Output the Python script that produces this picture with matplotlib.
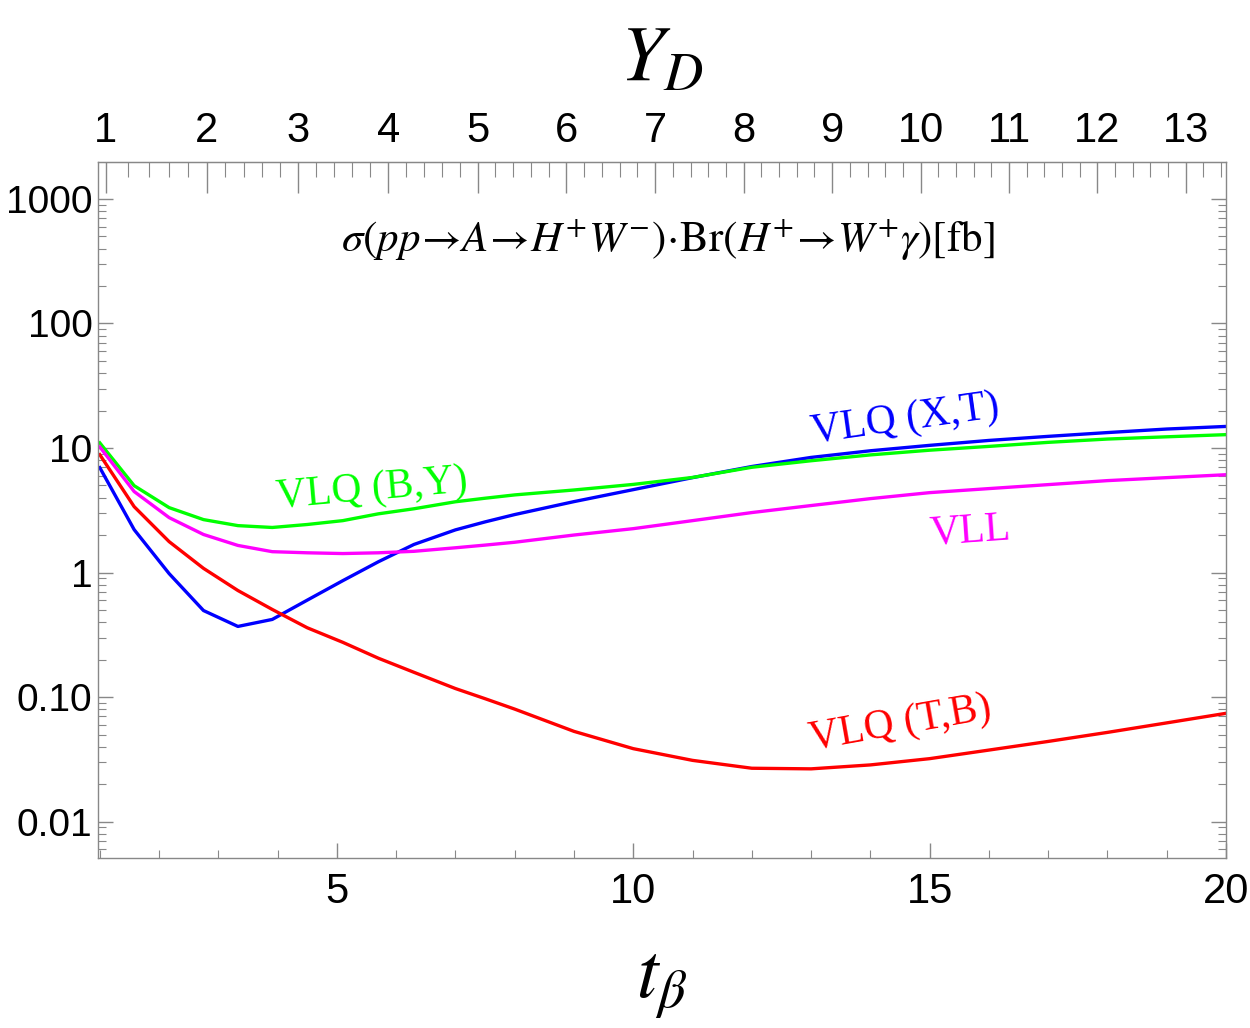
import matplotlib.pyplot as plt
import numpy as np
from matplotlib.ticker import FixedLocator, NullFormatter

plt.rcParams['mathtext.fontset'] = 'stix'

# t_beta sample points
tb = [1.0, 1.58, 2.17, 2.75, 3.33, 3.91, 4.5, 5.1, 5.7, 6.3, 7, 7.5, 8, 9, 10,
      11, 12, 13, 14, 15, 16, 17, 18, 19, 20]

# sigma x Br [fb] for each model
vlq_xt = [6.96, 2.21, 0.98, 0.495, 0.369, 0.42, 0.60, 0.86, 1.22, 1.68, 2.2, 2.55,
          2.92, 3.71, 4.63, 5.78, 7.1, 8.4, 9.5, 10.5, 11.5, 12.4, 13.3, 14.2, 14.9]
vlq_by = [11.0, 4.98, 3.32, 2.66, 2.38, 2.30, 2.43, 2.61, 2.96, 3.25, 3.7, 3.95,
          4.2, 4.6, 5.1, 5.8, 7.0, 7.9, 8.8, 9.6, 10.3, 11.1, 11.8, 12.3, 12.8]
vll = [10.2, 4.47, 2.76, 2.02, 1.65, 1.47, 1.44, 1.42, 1.44, 1.48, 1.58, 1.66,
       1.75, 2.0, 2.25, 2.61, 3.03, 3.45, 3.92, 4.38, 4.72, 5.08, 5.47, 5.78, 6.1]
vlq_tb = [8.84, 3.38, 1.77, 1.08, 0.717, 0.505, 0.36, 0.275, 0.205, 0.158, 0.117, 0.097,
          0.08, 0.053, 0.0385, 0.031, 0.0268, 0.0265, 0.0285, 0.032, 0.0375,
          0.044, 0.052, 0.062, 0.074]

ytick_vals = [0.01, 0.1, 1, 10, 100, 1000]
ytick_labels = ['0.01', '0.10', '1', '10', '100', '1000']
top_ticks = [1, 2, 3, 4, 5, 6, 7, 8, 9, 10, 11, 12, 13]

k_yd = 0.672  # Y_D = k * sqrt(1 + t^2)


def t_to_yd(t):
    return k_yd * np.sqrt(1 + np.asarray(t) ** 2)


def yd_to_t(y):
    return np.sqrt(np.maximum((np.asarray(y) / k_yd) ** 2 - 1, 0))


fig = plt.figure(figsize=(12.5, 10.28), dpi=100)
ax = fig.add_axes([0.0784, 0.1654, 0.9024, 0.677])

lw = 2.4
ax.plot(tb, vlq_xt, color=(0, 0, 1), lw=lw)
ax.plot(tb, vlq_by, color=(0, 1, 0), lw=lw)
ax.plot(tb, vll, color=(1, 0, 1), lw=lw)
ax.plot(tb, vlq_tb, color=(1, 0, 0), lw=lw)

ax.set_yscale('log')
ax.set_xlim(0.97, 20)
ax.set_ylim(0.0051, 1980)

ax.set_xticks([5, 10, 15, 20])
ax.xaxis.set_minor_locator(FixedLocator(range(1, 21)))
ax.set_yticks(ytick_vals, ytick_labels)
minors = [m * 10.0 ** e for e in range(-3, 4) for m in range(2, 10)]
ax.yaxis.set_minor_locator(FixedLocator(minors))
ax.yaxis.set_minor_formatter(NullFormatter())

gray = '#888888'
for s in ax.spines.values():
    s.set_color(gray)
    s.set_linewidth(1.0)
ax.tick_params(axis='both', which='major', direction='in', length=11, width=1,
               color=gray, labelsize=30, labelfontfamily='Liberation Sans', pad=10)
ax.tick_params(axis='both', which='minor', direction='in', length=6, width=0.8,
               color=gray)
ax.tick_params(axis='y', which='both', right=True)
ax.tick_params(axis='y', which='major', pad=4, labelsize=28)

secax = ax.secondary_xaxis('top', functions=(t_to_yd, yd_to_t))
secax.set_xticks(top_ticks)
secax.xaxis.set_minor_locator(FixedLocator(np.arange(1, 13.61, 0.2)))
secax.tick_params(which='major', direction='in', length=22, width=1, color=gray,
                  labelsize=30, labelfontfamily='Liberation Sans', pad=8)
secax.tick_params(which='minor', direction='in', length=11, width=0.8, color=gray)
secax.spines['top'].set_color(gray)
secax.set_xlabel(r'$Y_D$', fontsize=56, labelpad=22)

ax.set_xlabel(r'$t_\beta$', fontsize=56, labelpad=24)

ax.text(0.505, 0.888,
        r'$\sigma(pp\!\rightarrow\!A\!\rightarrow\!H^{+}W^{-})\!\cdot\!\mathrm{Br}(H^{+}\!\rightarrow\!W^{+}\gamma)[\mathrm{fb}]$',
        transform=ax.transAxes, ha='center', va='center', fontsize=31)

lab = dict(family='Liberation Serif', fontsize=30, ha='center', va='center')
ax.text(14.58, 16.9, 'VLQ (X,T)', color=(0, 0, 1), rotation=8, **lab)
ax.text(5.59, 4.64, 'VLQ (B,Y)', color=(0, 1, 0), rotation=5, **lab)
ax.text(15.68, 2.13, 'VLL', color=(1, 0, 1), rotation=4, **lab)
ax.text(14.5, 0.0604, 'VLQ (T,B)', color=(1, 0, 0), rotation=10, **lab)

fig.savefig('out.png', dpi=100)
